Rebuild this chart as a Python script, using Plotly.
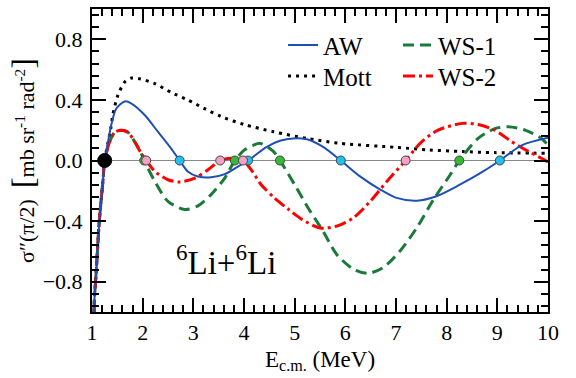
import plotly.graph_objects as go

# ---- data ----
start_x = [1.04, 1.05, 1.07, 1.10, 1.14, 1.17, 1.22, 1.25]
start_y = [-1.0, -0.9, -0.8, -0.64, -0.42, -0.3, -0.12, 0.0]

aw_x = start_x + [1.32, 1.38, 1.48, 1.645, 1.78, 2.04, 2.30, 2.56, 2.73, 2.89, 3.09, 3.35, 3.62, 3.88, 4.08,
                  4.45, 4.71, 4.97, 5.24, 5.56, 5.91, 6.29, 6.68, 7.01, 7.41, 7.80, 8.26, 8.72, 9.05, 9.48, 10.0]
aw_y = start_y + [0.13, 0.234, 0.343, 0.39, 0.376, 0.30, 0.19, 0.08, 0.0, -0.072, -0.105, -0.111, -0.09, -0.04, 0.0,
                  0.09, 0.13, 0.146, 0.14, 0.09, 0.0, -0.105, -0.19, -0.247, -0.265, -0.236, -0.16, -0.072, 0.0, 0.10, 0.15]

mott_x = start_x + [1.32, 1.37, 1.41, 1.51, 1.65, 1.78, 1.94, 2.24, 2.56, 2.89, 3.22, 3.55, 4.0, 4.58, 5.24,
                    5.89, 7.0, 7.64, 8.3, 8.95, 10.0]
mott_y = start_y + [0.125, 0.21, 0.30, 0.43, 0.52, 0.544, 0.54, 0.507, 0.45, 0.40, 0.343, 0.29, 0.238, 0.19, 0.146,
                    0.113, 0.087, 0.07, 0.059, 0.052, 0.048]

ws1_x = start_x + [1.35, 1.45, 1.58, 1.71, 1.84, 1.97, 2.03, 2.24, 2.50, 2.83, 3.09, 3.35, 3.62, 3.82, 4.01,
                   4.18, 4.32, 4.58, 4.71, 5.0, 5.26, 5.56, 5.83, 6.16, 6.45, 6.75, 7.08, 7.41, 7.74, 8.07,
                   8.25, 8.62, 8.95, 9.22, 9.55, 9.87, 10.0]
ws1_y = start_y + [0.125, 0.186, 0.20, 0.186, 0.125, 0.048, 0.0, -0.138, -0.27, -0.323, -0.30, -0.225, -0.116, 0.0, 0.07,
                   0.10, 0.113, 0.06, 0.0, -0.16, -0.31, -0.466, -0.62, -0.717, -0.745, -0.706, -0.597, -0.444, -0.258, -0.094,
                   0.0, 0.146, 0.21, 0.223, 0.20, 0.146, 0.10]

ws2_x = start_x + [1.35, 1.45, 1.58, 1.71, 1.84, 1.97, 2.07, 2.24, 2.50, 2.73, 3.03, 3.29, 3.53, 3.75, 3.98,
                   4.14, 4.34, 4.6, 4.87, 5.15, 5.5, 5.83, 6.16, 6.49, 6.82, 7.19, 7.51, 7.83, 8.30, 8.62,
                   8.95, 9.28, 9.61, 9.87, 10.0]
ws2_y = start_y + [0.125, 0.186, 0.20, 0.186, 0.125, 0.048, 0.0, -0.072, -0.127, -0.142, -0.116, -0.061, 0.0, 0.015, 0.0,
                   -0.06, -0.16, -0.247, -0.32, -0.39, -0.445, -0.433, -0.378, -0.27, -0.138, 0.0, 0.125, 0.20, 0.245, 0.238,
                   0.20, 0.125, 0.06, 0.015, -0.01]

# zero-crossing markers
cross_black = [1.25]
cross_ws1 = [2.03, 3.82, 4.71, 8.25]
cross_aw = [2.73, 4.08, 5.91, 9.05]
cross_ws2 = [2.07, 3.53, 3.98, 7.19]

FONT = "'Times New Roman', 'Liberation Serif', 'DejaVu Serif', serif"

fig = go.Figure()

# zero line
fig.add_trace(go.Scatter(x=[1, 10], y=[0, 0], mode="lines", line=dict(color="#888888", width=1),
                         showlegend=False, hoverinfo="skip"))

fig.add_trace(go.Scatter(x=mott_x, y=mott_y, mode="lines", name="Mott", legend="legend3",
                         line=dict(color="black", width=3, dash="3px,5px", shape="spline", smoothing=0.8)))
fig.add_trace(go.Scatter(x=ws1_x, y=ws1_y, mode="lines", name="WS-1", legend="legend2",
                         line=dict(color="#1a7a3a", width=3, dash="11px,6px", shape="spline", smoothing=0.8)))
fig.add_trace(go.Scatter(x=ws2_x, y=ws2_y, mode="lines", name="WS-2", legend="legend4",
                         line=dict(color="#ff0000", width=3, dash="12px,4px,3px,4px", shape="spline", smoothing=0.8)))
fig.add_trace(go.Scatter(x=aw_x, y=aw_y, mode="lines", name="AW", legend="legend",
                         line=dict(color="#1f4fb4", width=2, shape="spline", smoothing=0.8)))

mk_line = dict(color="#444444", width=1)
fig.add_trace(go.Scatter(x=cross_ws1, y=[0] * len(cross_ws1), mode="markers", showlegend=False,
                         marker=dict(size=9, color="#33bb33", line=mk_line)))
fig.add_trace(go.Scatter(x=cross_aw, y=[0] * len(cross_aw), mode="markers", showlegend=False,
                         marker=dict(size=9, color="#22c0ee", line=mk_line)))
fig.add_trace(go.Scatter(x=cross_ws2, y=[0] * len(cross_ws2), mode="markers", showlegend=False,
                         marker=dict(size=9, color="#f4a0c8", line=mk_line)))
fig.add_trace(go.Scatter(x=cross_black, y=[0], mode="markers", showlegend=False,
                         marker=dict(size=14, color="black", line=dict(color="black", width=1))))

axis_common = dict(showline=True, linecolor="black", linewidth=2, mirror="ticks", ticks="inside",
                   tickcolor="black", tickwidth=1.5, ticklen=14, showgrid=False, zeroline=False,
                   tickfont=dict(family=FONT, size=22, color="black"))

fig.update_xaxes(range=[1, 10], dtick=1, tick0=0, **axis_common,
                 minor=dict(dtick=0.2, ticks="inside", ticklen=7, tickcolor="black", tickwidth=1.5, showgrid=False),
                 title=dict(text="E<sub>c.m.</sub> (MeV)", font=dict(family=FONT, size=23, color="black"), standoff=6))
fig.update_yaxes(range=[-1, 1], dtick=0.4, tick0=0, tickformat=".1f", ticklabelstandoff=3, **axis_common,
                 minor=dict(dtick=0.08, tick0=0, ticks="inside", ticklen=7, tickcolor="black", tickwidth=1.5, showgrid=False),
                 title=dict(text="σ″(π/2)  <span style='font-size:32px'>[</span>mb sr<sup>-1</sup> rad<sup>-2</sup><span style='font-size:32px'>]</span>",
                            font=dict(family=FONT, size=22, color="black"), standoff=2))

fig.add_annotation(x=3.64, y=-0.66, xref="x", yref="y", showarrow=False,
                   text="<sup>6</sup>Li+<sup>6</sup>Li", font=dict(family=FONT, size=33, color="black"))

leg_common = dict(orientation="v", xanchor="left", yanchor="top", bgcolor="rgba(0,0,0,0)",
                  font=dict(family=FONT, size=25, color="black"), itemwidth=30, tracegroupgap=0)

fig.update_layout(
    width=576, height=378,
    margin=dict(l=92, r=28, t=7, b=66),
    paper_bgcolor="white", plot_bgcolor="white",
    font=dict(family=FONT, color="black"),
    showlegend=True,
    legend=dict(x=0.419, y=0.956, **leg_common),
    legend3=dict(x=0.419, y=0.854, **leg_common),
    legend2=dict(x=0.671, y=0.956, **leg_common),
    legend4=dict(x=0.671, y=0.854, **leg_common),
)

fig.write_html("out.html")
